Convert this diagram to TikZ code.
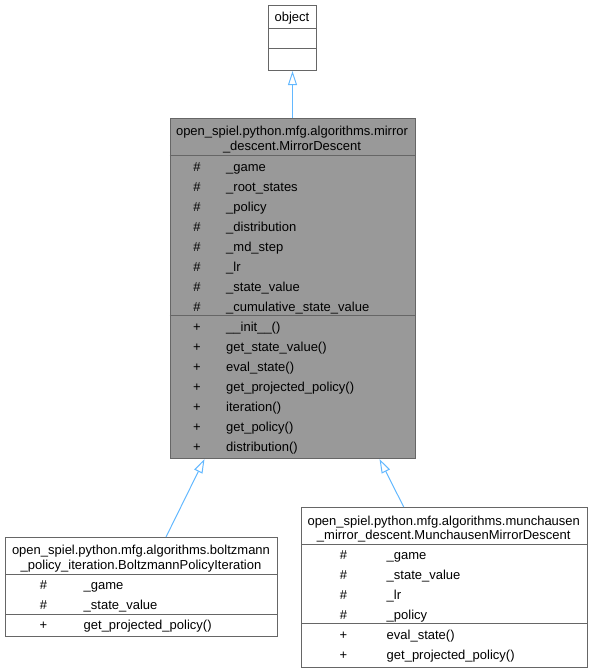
\documentclass[tikz,border=0pt]{standalone}
\usepackage{fontspec}
\setmainfont{Liberation Sans}
\usetikzlibrary{arrows.meta}
\definecolor{edgeblue}{HTML}{63B8FF}
\definecolor{boxline}{HTML}{666666}
\definecolor{focusfill}{HTML}{999999}
\tikzset{
  x=1pt, y=-1pt,
  umlbox/.style={draw=boxline, line width=1pt, fill=white, rectangle, inner sep=0pt, anchor=north west},
  focusbox/.style={umlbox, fill=focusfill},
  sep/.style={draw=boxline, line width=1pt},
  txt/.style={inner sep=0pt, font=\fontsize{13}{15}\selectfont, anchor=base west},
  ctxt/.style={txt, anchor=base},
  inh/.style={draw=edgeblue, line width=1pt, -{Triangle[length=14pt, width=9pt, fill=white]}},
}
\begin{document}
\begin{tikzpicture}
\useasboundingbox (0,0) rectangle (592,672);

% base class: object
\node[umlbox, minimum width=48pt, minimum height=65pt] (obj) at (268,5) {};
\draw[sep] (268,28) -- (316,28);
\draw[sep] (268,48) -- (316,48);
\node[ctxt] (objname) at (292,21.5) {object};

% MirrorDescent
\node[focusbox, minimum width=245pt, minimum height=340pt] (md) at (169.5,118) {};
\node[ctxt] (mdt1) at (292,135.5) {open\_spiel.python.mfg.algorithms.mirror};
\node[ctxt] (mdt2) at (292,150.5) {\_descent.MirrorDescent};
\draw[sep] (169.5,155) -- (414.5,155);
\draw[sep] (169.5,315.5) -- (414.5,315.5);
\foreach \y/\t [count=\i] in {
  167/\_game, 187/\_root\_states, 207/\_policy, 227/\_distribution,
  247/\_md\_step, 267/\_lr, 287/\_state\_value, 307/\_cumulative\_state\_value}{
  \node[ctxt] (mda\i s) at (197,\y+4.5) {\#};
  \node[txt] (mda\i) at (226,\y+4.5) {\t};
}
\foreach \y/\t [count=\i] in {
  327/\_\_init\_\_(), 347/get\_state\_value(), 367/eval\_state(),
  387/get\_projected\_policy(), 407/iteration(), 427/get\_policy(), 447/distribution()}{
  \node[ctxt] (mdm\i s) at (197,\y+4.5) {+};
  \node[txt] (mdm\i) at (226,\y+4.5) {\t};
}

% BoltzmannPolicyIteration
\node[umlbox, minimum width=272pt, minimum height=99pt] (bpi) at (5,537) {};
\node[ctxt] (bpit1) at (141,554.5) {open\_spiel.python.mfg.algorithms.boltzmann};
\node[ctxt] (bpit2) at (141,569) {\_policy\_iteration.BoltzmannPolicyIteration};
\draw[sep] (5,574) -- (277,574);
\draw[sep] (5,614.5) -- (277,614.5);
\node[ctxt] (bpia1s) at (43.5,589.5) {\#};
\node[txt] (bpia1) at (83.5,589.5) {\_game};
\node[ctxt] (bpia2s) at (43.5,609.5) {\#};
\node[txt] (bpia2) at (83.5,609.5) {\_state\_value};
\node[ctxt] (bpim1s) at (43.5,629) {+};
\node[txt] (bpim1) at (83.5,629) {get\_projected\_policy()};

% MunchausenMirrorDescent
\node[umlbox, minimum width=285.5pt, minimum height=160pt] (mmd) at (301,507) {};
\node[ctxt] (mmdt1) at (443.75,525.5) {open\_spiel.python.mfg.algorithms.munchausen};
\node[ctxt] (mmdt2) at (443.75,539) {\_mirror\_descent.MunchausenMirrorDescent};
\draw[sep] (301,544.5) -- (586.5,544.5);
\draw[sep] (301,623.5) -- (586.5,623.5);
\foreach \y/\t [count=\i] in {555/\_game, 575/\_state\_value, 595/\_lr, 615/\_policy}{
  \node[ctxt] (mmda\i s) at (343.5,\y+4.5) {\#};
  \node[txt] (mmda\i) at (386.5,\y+4.5) {\t};
}
\foreach \y/\t [count=\i] in {635/eval\_state(), 655/get\_projected\_policy()}{
  \node[ctxt] (mmdm\i s) at (343.5,\y+4.5) {+};
  \node[txt] (mmdm\i) at (386.5,\y+4.5) {\t};
}

% inheritance arrows
\draw[inh] (md.north) -- (obj.south);
\draw[inh] ([xshift=24.5pt]bpi.north) -- ([xshift=-88pt]md.south);
\draw[inh] ([xshift=-40.5pt]mmd.north) -- ([xshift=87pt]md.south);
\end{tikzpicture}
\end{document}
